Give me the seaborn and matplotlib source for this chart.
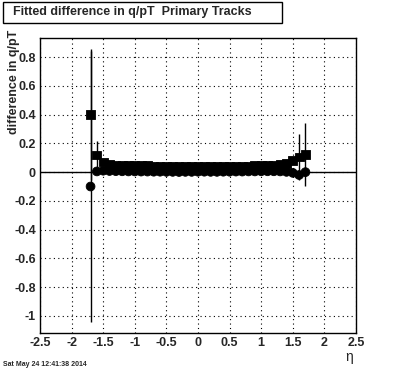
import numpy as np
import pandas as pd
import matplotlib
matplotlib.use('Agg')
import matplotlib.pyplot as plt
import seaborn as sns
from matplotlib.patches import Rectangle
from matplotlib.ticker import MultipleLocator

# donnees (eta, difference q/pT)
eta = [-1.7, -1.6, -1.5, -1.4, -1.3, -1.2, -1.1, -1.0, -0.9, -0.8, -0.7, -0.6,
       -0.5, -0.4, -0.3, -0.2, -0.1, 0.0, 0.1, 0.2, 0.3, 0.4, 0.5, 0.6,
       0.7, 0.8, 0.9, 1.0, 1.1, 1.2, 1.3, 1.4, 1.5, 1.6, 1.7]

square_y = [0.40, 0.12, 0.07, 0.055, 0.050, 0.048, 0.047, 0.046, 0.045, 0.044, 0.042, 0.040,
            0.040, 0.038, 0.038, 0.037, 0.037, 0.037, 0.038, 0.038, 0.039, 0.040, 0.040, 0.041,
            0.042, 0.043, 0.045, 0.046, 0.048, 0.050, 0.052, 0.058, 0.080, 0.105, 0.125]
square_err = [0.455, 0.10, 0.01, 0.005, 0.005, 0.005, 0.005, 0.005, 0.005, 0.005, 0.005, 0.005,
              0.005, 0.005, 0.005, 0.005, 0.005, 0.005, 0.005, 0.005, 0.005, 0.005, 0.005, 0.005,
              0.005, 0.005, 0.005, 0.005, 0.005, 0.005, 0.005, 0.005, 0.01, 0.16, 0.22]

circle_y = [-0.10, 0.005, 0.010, 0.008, 0.007, 0.006, 0.005, 0.005, 0.004, 0.004, 0.003, 0.003,
            0.002, 0.002, 0.001, 0.002, 0.002, 0.003, 0.003, 0.002, 0.002, 0.003, 0.003, 0.004,
            0.004, 0.005, 0.005, 0.006, 0.006, 0.006, 0.005, 0.002, -0.005, -0.020, 0.000]
circle_err = [0.945, 0.02, 0.005, 0.005, 0.005, 0.005, 0.005, 0.005, 0.005, 0.005, 0.005, 0.005,
              0.005, 0.005, 0.005, 0.005, 0.005, 0.005, 0.005, 0.005, 0.005, 0.005, 0.005, 0.005,
              0.005, 0.005, 0.005, 0.005, 0.005, 0.005, 0.005, 0.005, 0.005, 0.02, 0.03]

df = pd.DataFrame({
    'eta': eta + eta,
    'diff': square_y + circle_y,
    'err': square_err + circle_err,
    'serie': ['carre'] * len(eta) + ['rond'] * len(eta),
})

sns.set_style('white')
plt.rcParams['font.family'] = ['Liberation Sans', 'DejaVu Sans']
plt.rcParams['font.weight'] = 'bold'

fig = plt.figure(figsize=(3.96, 3.72), dpi=100)
ax = fig.add_axes([40 / 396, 1 - 333 / 372, 316 / 396, (333 - 37.7) / 372])

# barres d'erreur
for s in ['carre', 'rond']:
    d = df[df['serie'] == s]
    ax.errorbar(d['eta'], d['diff'], yerr=d['err'], fmt='none', ecolor='black',
                elinewidth=1, capsize=0, zorder=2)

sns.scatterplot(data=df, x='eta', y='diff', style='serie', markers={'carre': 's', 'rond': 'o'},
                color='black', s=40, edgecolor='black', linewidth=0.6, legend=False, ax=ax, zorder=3)

ax.axhline(0, color='black', linewidth=1, zorder=1)

ax.set_xlim(-2.5, 2.5)
ax.set_ylim(-1.12, 0.936)
ax.xaxis.set_minor_locator(MultipleLocator(0.1))
ax.yaxis.set_minor_locator(MultipleLocator(0.05))
ax.set_xticks(np.arange(-2.5, 2.51, 0.5))
ax.set_xticklabels(['-2.5', '-2', '-1.5', '-1', '-0.5', '0', '0.5', '1', '1.5', '2', '2.5'])
ax.set_yticks([-1.0, -0.8, -0.6, -0.4, -0.2, 0.0, 0.2, 0.4, 0.6, 0.8])
ax.set_yticklabels(['-1', '-0.8', '-0.6', '-0.4', '-0.2', '0', '0.2', '0.4', '0.6', '0.8'])

ax.tick_params(which='both', direction='in', top=False, right=False, labelsize=9, width=1, color='black')
ax.tick_params(which='major', length=6.5, pad=3)
ax.tick_params(which='minor', length=3.2)
for lab in ax.get_xticklabels() + ax.get_yticklabels():
    lab.set_fontweight('bold')

ax.grid(True, which='major', color='black', linestyle=(0, (1, 3)), linewidth=0.8)
for sp in ax.spines.values():
    sp.set_color('black')
    sp.set_linewidth(1)
ax.set_xlabel('')
ax.set_ylabel('')

# titre encadre facon ROOT
fig.patches.append(Rectangle((3 / 396, 1 - 23 / 372), 279 / 396, 21 / 372, transform=fig.transFigure,
                             facecolor='white', edgecolor='black', linewidth=1))
fig.text(13 / 396, 1 - 12.5 / 372, 'Fitted difference in q/pT  Primary Tracks', fontsize=9,
         fontweight='bold', ha='left', va='center')

fig.text(14.5 / 396, 1 - 30 / 372, 'difference in q/pT', rotation=90, fontsize=9, fontweight='bold',
         ha='center', va='top')
fig.text(353 / 396, 1 - 357 / 372, 'η', fontsize=10, ha='right', va='center', fontweight='normal')
fig.text(3 / 396, 1 - 364 / 372, 'Sat May 24 12:41:38 2014', fontsize=5, ha='left', va='center')

fig.savefig('out.png', dpi=100)
